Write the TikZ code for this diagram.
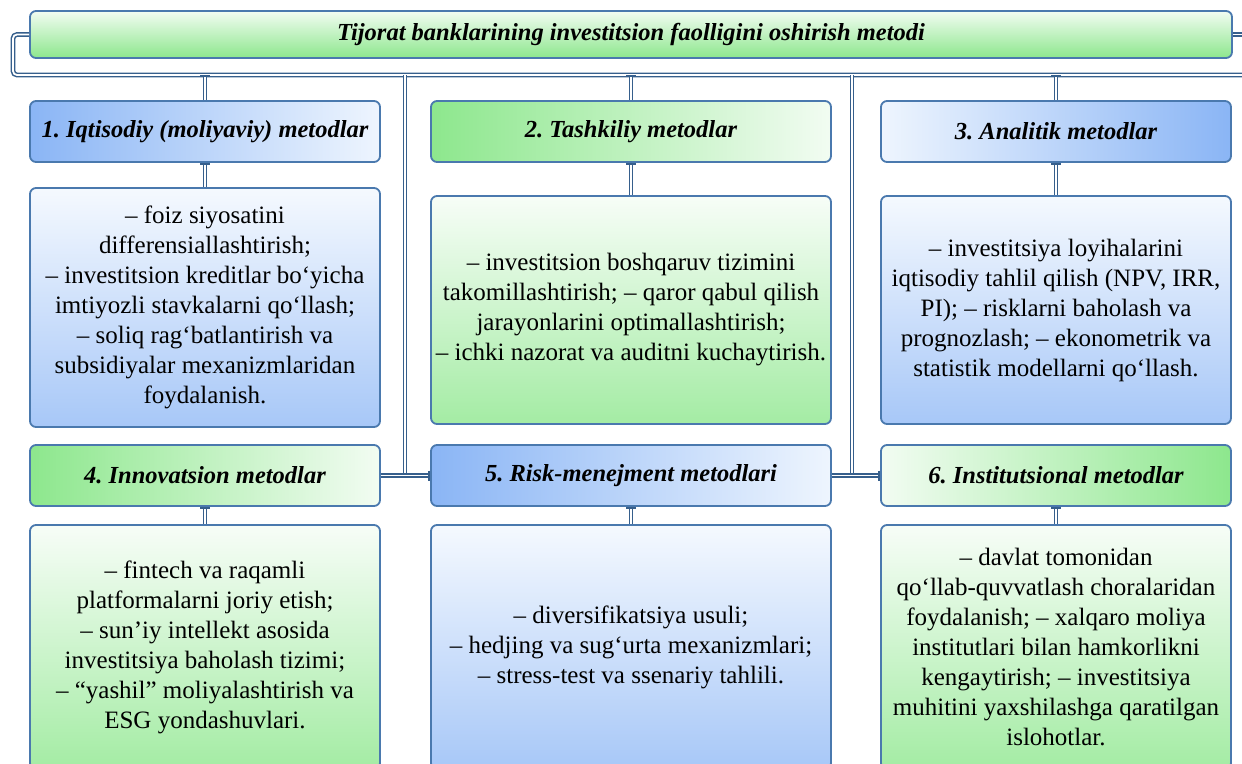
\documentclass[tikz,border=0pt]{standalone}
\usepackage{fontspec}
\setmainfont{Liberation Serif}
\usepackage{tikz}
\usetikzlibrary{arrows.meta}
\frenchspacing
\definecolor{boxedge}{HTML}{4A79AE}
\definecolor{linkcol}{HTML}{365F8C}
\definecolor{blueish}{HTML}{8AB5F5}
\definecolor{greenish}{HTML}{8DE78D}
\definecolor{paleblue}{HTML}{EEF5FE}
\definecolor{palegreen}{HTML}{F2FCF2}
\tikzstyle{base} = [rectangle, rounded corners=6pt, draw=boxedge, line width=1.8pt, inner sep=0pt, text centered, align=center, text=black]
\tikzstyle{title} = [base, minimum width=1202pt, minimum height=47pt, top color=palegreen, bottom color=greenish, font=\fontsize{24.5}{28}\selectfont\bfseries\itshape]
\tikzstyle{headblue} = [base, minimum width=350pt, minimum height=61pt, font=\fontsize{24.5}{28}\selectfont\bfseries\itshape]
\tikzstyle{content} = [base, minimum width=350pt, font=\fontsize{25}{30}\selectfont]
\tikzstyle{link} = [draw=linkcol, line width=1.5pt, double=white, double distance=1.8pt]
\tikzstyle{tee} = [link, -{Bar[width=10pt,line width=1.8pt]}]

\begin{document}
\begin{tikzpicture}[x=1pt, y=-1pt]
		\useasboundingbox (0,0) rectangle (1242,763);
		\clip (0,0) rectangle (1242,763);
		% title and bus
		\node (title) [title] at (631,34.5) {Tijorat banklarining investitsion faolligini oshirish metodi};
		\coordinate (busL) at (13,75);
		\coordinate (busR) at (1250,75);
		\coordinate (busA) at (405,75);
		\coordinate (busB) at (852,75);
		% headers, first row
		\node (h1) [headblue, left color=blueish, right color=paleblue] at (205,131.5) {1. Iqtisodiy (moliyaviy) metodlar};
		\node (h2) [headblue, minimum width=400pt, left color=greenish, right color=palegreen] at (631,131.5) {2. Tashkiliy metodlar};
		\node (h3) [headblue, left color=paleblue, right color=blueish] at (1056,131.5) {3. Analitik metodlar};
		% contents, first row
		\node (c1) [content, minimum height=239pt, top color=paleblue!60!white, bottom color=blueish!75!white] at (205,307.5) {– foiz siyosatini\\differensiallashtirish;\\– investitsion kreditlar bo‘yicha\\imtiyozli stavkalarni qo‘llash;\\– soliq rag‘batlantirish va\\subsidiyalar mexanizmlaridan\\foydalanish.};
		\node (c2) [content, minimum width=400pt, minimum height=228pt, top color=palegreen!60!white, bottom color=greenish!80!white] at (631,310) {– investitsion boshqaruv tizimini\\takomillashtirish; – qaror qabul qilish\\jarayonlarini optimallashtirish;\\– ichki nazorat va auditni kuchaytirish.};
		\node (c3) [content, minimum height=228pt, top color=paleblue!60!white, bottom color=blueish!75!white] at (1056,310) {– investitsiya loyihalarini\\iqtisodiy tahlil qilish (NPV, IRR,\\PI); – risklarni baholash va\\prognozlash; – ekonometrik va\\statistik modellarni qo‘llash.};
		% headers, second row
		\node (h4) [headblue, left color=greenish, right color=palegreen] at (205,475.5) {4. Innovatsion metodlar};
		\node (h5) [headblue, minimum width=400pt, left color=blueish, right color=paleblue] at (631,475.5) {5. Risk-menejment metodlari};
		\node (h6) [headblue, left color=palegreen, right color=greenish] at (1056,475.5) {6. Institutsional metodlar};
		% contents, second row
		\node (c4) [content, minimum height=244pt, top color=palegreen!60!white, bottom color=greenish!80!white] at (205,647) {– fintech va raqamli\\platformalarni joriy etish;\\– sun’iy intellekt asosida\\investitsiya baholash tizimi;\\– “yashil” moliyalashtirish va\\ESG yondashuvlari.};
		\node (c5) [content, minimum width=400pt, minimum height=244pt, top color=paleblue!60!white, bottom color=blueish!75!white] at (631,647) {– diversifikatsiya usuli;\\– hedjing va sug‘urta mexanizmlari;\\– stress-test va ssenariy tahlili.};
		\node (c6) [content, minimum height=244pt, top color=palegreen!60!white, bottom color=greenish!80!white] at (1056,647) {– davlat tomonidan\\qo‘llab-quvvatlash choralaridan\\foydalanish; – xalqaro moliya\\institutlari bilan hamkorlikni\\kengaytirish; – investitsiya\\muhitini yaxshilashga qaratilgan\\islohotlar.};
		% connectors
		\draw [link, rounded corners=4pt] (title.west) -| (busL) -- (busR);
		\draw [link] (title.east) -- (title.east -| busR);
		\foreach \h in {h1,h2,h3}
			\draw [link, {Bar[width=10pt,line width=1.8pt]}-] (\h.north |- busL) -- (\h.north);
		\foreach \h/\c in {h1/c1,h2/c2,h3/c3,h4/c4,h5/c5,h6/c6}
			\draw [tee, {Bar[width=10pt,line width=1.8pt]}-] (\h.south) -- (\c.north);
		\draw [link] (busA) |- (h5.west);
		\draw [link] (busB) |- (h6.west);
		\draw [tee] (h4.east) -- (h5.west);
		\draw [tee] (h5.east) -- (h6.west);
	\end{tikzpicture}
\end{document}
